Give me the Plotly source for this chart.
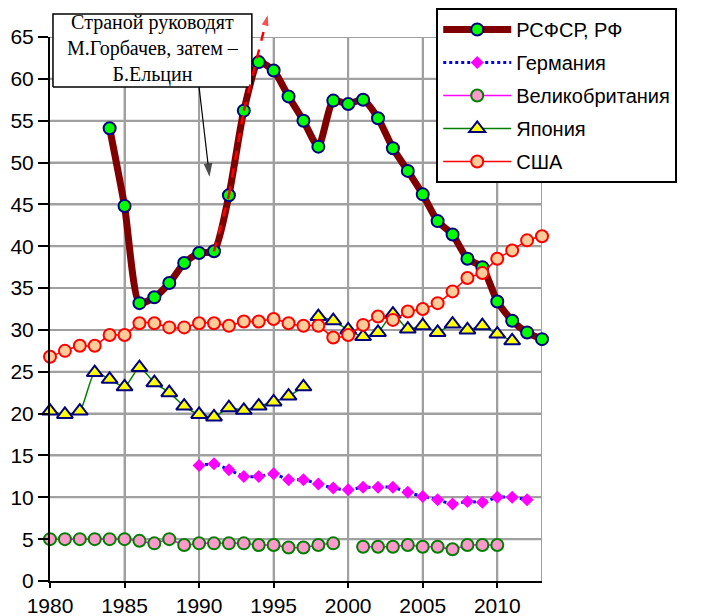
import plotly.graph_objects as go

# ---------------- data ----------------
rf_years = list(range(1984, 2014))
rf_vals = [54.1, 44.8, 33.2, 33.9, 35.6, 38.0, 39.2, 39.4, 46.1, 56.2,
           62.0, 61.0, 57.9, 55.0, 51.9, 57.4, 57.0, 57.5, 55.3, 51.7,
           49.0, 46.2, 43.0, 41.4, 38.5, 37.5, 33.4, 31.1, 29.7, 28.9]

de_years = list(range(1990, 2013))
de_vals = [13.8, 14.0, 13.3, 12.5, 12.5, 12.8, 12.1, 12.1, 11.6, 11.1,
           10.9, 11.2, 11.2, 11.2, 10.6, 10.1, 9.7, 9.2, 9.5, 9.4,
           10.0, 10.0, 9.7]

uk_years = list(range(1980, 2011))
uk_vals = [5.0, 5.0, 5.0, 5.0, 5.0, 5.0, 4.8, 4.5, 5.0, 4.3,
           4.5, 4.5, 4.5, 4.5, 4.3, 4.3, 4.0, 4.0, 4.3, 4.5,
           None, 4.1, 4.1, 4.1, 4.3, 4.1, 4.1, 3.8, 4.3, 4.3, 4.3]

jp_years_a = list(range(1980, 1998))
jp_vals_a = [20.3, 19.9, 20.3, 24.9, 24.1, 23.2, 25.5, 23.7, 22.5, 20.9,
             19.9, 19.6, 20.7, 20.4, 20.9, 21.4, 22.1, 23.2]
jp_years_b = list(range(1998, 2012))
jp_vals_b = [31.6, 31.1, 30.0, 29.2, 29.7, 31.9, 30.1, 30.5, 29.7, 30.7,
             30.0, 30.5, 29.5, 28.7]

us_years = list(range(1980, 2014))
us_vals = [26.8, 27.5, 28.1, 28.1, 29.4, 29.4, 30.8, 30.8, 30.3, 30.3,
           30.8, 30.8, 30.5, 31.0, 31.0, 31.3, 30.8, 30.5, 30.5, 29.1,
           29.4, 30.6, 31.6, 31.2, 32.2, 32.5, 33.2, 34.6, 36.2, 36.8,
           38.5, 39.5, 40.7, 41.2]

x_ticks = [1980, 1985, 1990, 1995, 2000, 2005, 2010]
y_ticks = [0, 5, 10, 15, 20, 25, 30, 35, 40, 45, 50, 55, 60, 65]
X_RANGE = [1980, 2013]
Y_RANGE = [0, 65]

# note box (position and extent in data units)
note_text = "Страной руководят<br>М.Горбачев, затем –<br>Б.Ельцин"
note_center = (1986.87, 63.4)
note_half_w, note_half_h = 6.67, 4.36
note_arrow_years = [1990.0, 1990.7]
note_arrow_vals = [59.0, 48.3]

# red dashed "take-off" arrow: through the 1991-1993 values, then off the chart
red_path_years = [1991, 1992, 1993, 1994.6]
red_path_vals = [39.4, 46.1, 56.2, 67.6]

# ---------------- layout geometry ----------------
FIG_W, FIG_H = 694, 608
M_L, M_R, M_T, M_B = 42, 160, 0, 35
PLOT_TOP_GAP = 29          # px between figure top and the "65" gridline
plot_h = FIG_H - M_T - M_B
y_dom_top = (plot_h - PLOT_TOP_GAP) / plot_h
y2_top = Y_RANGE[0] + (Y_RANGE[1] - Y_RANGE[0]) / y_dom_top

SANS = "Liberation Sans, Arial, sans-serif"
SERIF = "Liberation Serif, Times New Roman, serif"
GRID = "#A0A0A0"

fig = go.Figure()

# grid as a background trace built from the tick lists (plus the right frame edge)
grid_x, grid_y = [], []
for v in x_ticks[1:] + [X_RANGE[1]]:
    grid_x += [v, v, None]
    grid_y += [Y_RANGE[0], Y_RANGE[1], None]
for v in y_ticks[1:]:
    grid_x += [X_RANGE[0], X_RANGE[1], None]
    grid_y += [v, v, None]
fig.add_trace(go.Scatter(
    x=grid_x, y=grid_y, mode="lines", showlegend=False, hoverinfo="skip",
    line=dict(color=GRID, width=2), connectgaps=False, cliponaxis=False))

fig.add_trace(go.Scatter(
    x=rf_years, y=rf_vals, name="РСФСР, РФ", legendgroup="rf",
    mode="lines+markers", line=dict(color="#800000", width=7, shape="spline", smoothing=0.6),
    marker=dict(symbol="circle", size=12, color="#00FF00", line=dict(color="#000080", width=2)),
    cliponaxis=False))

fig.add_trace(go.Scatter(
    x=de_years, y=de_vals, name="Германия", legendgroup="de",
    mode="lines+markers", line=dict(color="#0000FF", width=3, dash="dot", shape="spline", smoothing=0.6),
    marker=dict(symbol="diamond", size=10, color="#FF00FF", line=dict(color="#FF00FF", width=0)),
    cliponaxis=False))

fig.add_trace(go.Scatter(
    x=uk_years, y=uk_vals, name="Великобритания", legendgroup="uk",
    mode="lines+markers", connectgaps=False,
    line=dict(color="#FF00FF", width=1.5, shape="spline", smoothing=0.6),
    marker=dict(symbol="circle", size=12, color="#FF99CC", line=dict(color="#008000", width=2)),
    cliponaxis=False))

fig.add_trace(go.Scatter(
    x=jp_years_a, y=jp_vals_a, name="Япония", legendgroup="jp",
    mode="lines+markers", line=dict(color="#008000", width=1.5, shape="spline", smoothing=0.6),
    marker=dict(symbol="triangle-up", size=14, color="#FFFF00", line=dict(color="#000080", width=2)),
    cliponaxis=False))
fig.add_trace(go.Scatter(
    x=jp_years_b, y=jp_vals_b, name="Япония", legendgroup="jp", showlegend=False,
    mode="lines+markers", line=dict(color="#008000", width=1.5, shape="spline", smoothing=0.6),
    marker=dict(symbol="triangle-up", size=14, color="#FFFF00", line=dict(color="#000080", width=2)),
    cliponaxis=False))

fig.add_trace(go.Scatter(
    x=us_years, y=us_vals, name="США", legendgroup="us",
    mode="lines+markers", line=dict(color="#FF0000", width=1.5, shape="spline", smoothing=0.6),
    marker=dict(symbol="circle", size=12, color="#FFCC99", line=dict(color="#FF0000", width=2)),
    cliponaxis=False))

# ---- decorations on a helper axis pair (same scale, reaches the figure top) ----
cx, cy = note_center
box_x = [cx - note_half_w, cx + note_half_w, cx + note_half_w, cx - note_half_w, cx - note_half_w]
box_y = [cy - note_half_h, cy - note_half_h, cy + note_half_h, cy + note_half_h, cy - note_half_h]
fig.add_trace(go.Scatter(
    x=box_x, y=box_y, xaxis="x2", yaxis="y2", mode="lines", fill="toself",
    fillcolor="#FFFFFF", line=dict(color="#000000", width=1.5),
    showlegend=False, hoverinfo="skip", cliponaxis=False))
fig.add_trace(go.Scatter(
    x=[cx], y=[cy], xaxis="x2", yaxis="y2", mode="text", text=[note_text],
    textposition="middle center", textfont=dict(family=SERIF, size=20, color="#000000"),
    showlegend=False, hoverinfo="skip", cliponaxis=False))

na = len(note_arrow_years)
fig.add_trace(go.Scatter(
    x=note_arrow_years, y=note_arrow_vals, xaxis="x2", yaxis="y2", mode="lines+markers",
    line=dict(color="#000000", width=1.2),
    marker=dict(symbol=["circle"] * (na - 1) + ["arrow"], angleref="previous",
                size=[0] * (na - 1) + [14], color="#000000", line=dict(width=0)),
    showlegend=False, hoverinfo="skip", cliponaxis=False))

n = len(red_path_years)
fig.add_trace(go.Scatter(
    x=red_path_years, y=red_path_vals, xaxis="x2", yaxis="y2", showlegend=False,
    hoverinfo="skip", mode="lines+markers",
    line=dict(color="#FF0000", width=2.5, dash="dash"),
    marker=dict(symbol=["circle"] * (n - 1) + ["arrow"], angleref="previous",
                size=[0] * (n - 1) + [11], color="#FF0000", line=dict(width=0)),
    cliponaxis=False))

fig.update_layout(
    width=FIG_W, height=FIG_H,
    margin=dict(l=M_L, r=M_R, t=M_T, b=M_B, autoexpand=False),
    paper_bgcolor="#FFFFFF", plot_bgcolor="rgba(0,0,0,0)",
    font=dict(family=SANS, size=21, color="#000000"),
    legend=dict(
        x=0.785, y=1.0, xanchor="left", yanchor="top",
        bgcolor="#FFFFFF", bordercolor="#000000", borderwidth=2,
        font=dict(family=SANS, size=20, color="#000000"),
        itemwidth=68, tracegroupgap=4, traceorder="grouped",
    ),
    xaxis=dict(
        domain=[0, 1], anchor="y",
        range=X_RANGE, tickvals=x_ticks, ticks="outside", ticklen=5, tickcolor="#000000",
        tickwidth=2, showline=True, linecolor="#000000", linewidth=2, automargin=False,
        showgrid=True, gridcolor=GRID, gridwidth=2, zeroline=False,
        tickfont=dict(family=SANS, size=21),
    ),
    yaxis=dict(
        domain=[0, y_dom_top], anchor="x",
        range=Y_RANGE, tickvals=y_ticks, ticks="outside", ticklen=10, tickcolor="#000000",
        tickwidth=2, showline=True, linecolor="#000000", linewidth=2, automargin=False,
        showgrid=True, gridcolor=GRID, gridwidth=2, zeroline=False,
        tickfont=dict(family=SANS, size=21),
    ),
    xaxis2=dict(domain=[0, 1], anchor="y2", range=X_RANGE, visible=False,
                showgrid=False, zeroline=False, automargin=False),
    yaxis2=dict(domain=[0, 1], anchor="x2", range=[Y_RANGE[0], y2_top], visible=False,
                showgrid=False, zeroline=False, automargin=False),
)

fig.write_html("out.html")
